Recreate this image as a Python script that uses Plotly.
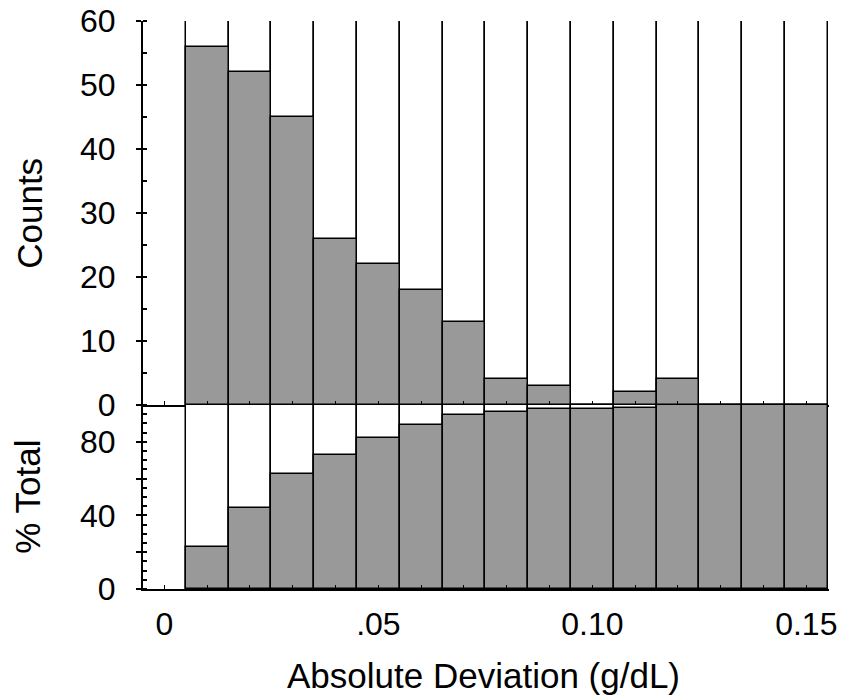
import plotly.graph_objects as go

# Data
bin_centers = [0.01, 0.02, 0.03, 0.04, 0.05, 0.06, 0.07, 0.08, 0.09, 0.10, 0.11, 0.12, 0.13, 0.14, 0.15]
counts = [56, 52, 45, 26, 22, 18, 13, 4, 3, 0, 2, 4, 0, 0, 0]
pct_total = [22.9, 44.1, 62.4, 73.1, 82.0, 89.4, 94.7, 96.3, 97.6, 97.6, 98.4, 100, 100, 100, 100]
col_top = [62] * len(bin_centers)
col_bottom = [100] * len(bin_centers)

x_tickvals = [0.0] + bin_centers
x_ticktext = ["0", "", "", "", "", ".05", "", "", "", "", "0.10", "", "", "", "", "0.15"]
top_yticks = [0, 10, 20, 30, 40, 50, 60]
bot_yticks = [0, 20, 40, 60, 80]
bot_ytext = ["0", "", "40", "", "80"]

FONT = "Liberation Sans, Arial, Helvetica, sans-serif"
GRAY = "#999999"
BW = 0.01
LW = 1.5

fig = go.Figure()
# top panel: white columns then gray count bars
fig.add_trace(go.Bar(x=bin_centers, y=col_top, width=BW, marker=dict(color="white", line=dict(color="black", width=LW)),
                     xaxis="x", yaxis="y", showlegend=False, hoverinfo="skip"))
fig.add_trace(go.Bar(x=bin_centers, y=counts, width=BW, marker=dict(color=GRAY, line=dict(color="black", width=LW)),
                     xaxis="x", yaxis="y", showlegend=False))
# bottom panel
fig.add_trace(go.Bar(x=bin_centers, y=col_bottom, width=BW, marker=dict(color="white", line=dict(color="black", width=LW)),
                     xaxis="x2", yaxis="y2", showlegend=False, hoverinfo="skip"))
fig.add_trace(go.Bar(x=bin_centers, y=pct_total, width=BW, marker=dict(color=GRAY, line=dict(color="black", width=LW)),
                     xaxis="x2", yaxis="y2", showlegend=False))

xr = [-0.005, 0.1553]
split = 0.324
common_x = dict(range=xr, showline=True, linecolor="black", linewidth=2, showgrid=False, zeroline=False,
                ticks="inside", ticklen=4, tickcolor="black", tickwidth=1, tickvals=x_tickvals, automargin=False)

fig.update_layout(
    width=867, height=698,
    margin=dict(l=143, r=38, t=21, b=109),
    paper_bgcolor="white", plot_bgcolor="white",
    barmode="overlay", bargap=0,
    font=dict(family=FONT, size=32, color="black"),
    xaxis=dict(anchor="y", showticklabels=False, **common_x),
    xaxis2=dict(anchor="y2", matches="x", ticktext=x_ticktext, ticklabelstandoff=6, **common_x),
    yaxis=dict(domain=[split, 1], range=[0, 60], anchor="x", showline=True, linecolor="black", linewidth=2,
               showgrid=False, zeroline=False, tickvals=top_yticks, ticks="outside", ticklen=5,
               tickcolor="black", tickwidth=1.5, ticklabelstandoff=14, automargin=False,
               minor=dict(dtick=5, ticks="inside", ticklen=4, tickcolor="black", showgrid=False)),
    yaxis2=dict(domain=[0, split], range=[0, 100], anchor="x2", showline=True, linecolor="black", linewidth=2,
                showgrid=False, zeroline=False, tickvals=bot_yticks, ticktext=bot_ytext, ticks="outside",
                ticklen=5, tickcolor="black", tickwidth=1.5, ticklabelstandoff=14, automargin=False,
                minor=dict(dtick=5, ticks="inside", ticklen=4, tickcolor="black", showgrid=False)),
    annotations=[
        dict(text="Counts", xref="paper", yref="paper", x=-0.165, y=(split + 1) / 2, textangle=-90,
             showarrow=False, xanchor="center", yanchor="middle", font=dict(size=35)),
        dict(text="% Total", xref="paper", yref="paper", x=-0.168, y=split / 2, textangle=-90,
             showarrow=False, xanchor="center", yanchor="middle", font=dict(size=35)),
        dict(text="Absolute Deviation (g/dL)", xref="paper", yref="paper", x=0.496, y=-0.152,
             showarrow=False, xanchor="center", yanchor="middle", font=dict(size=35)),
    ],
)

fig.write_html("out.html")
